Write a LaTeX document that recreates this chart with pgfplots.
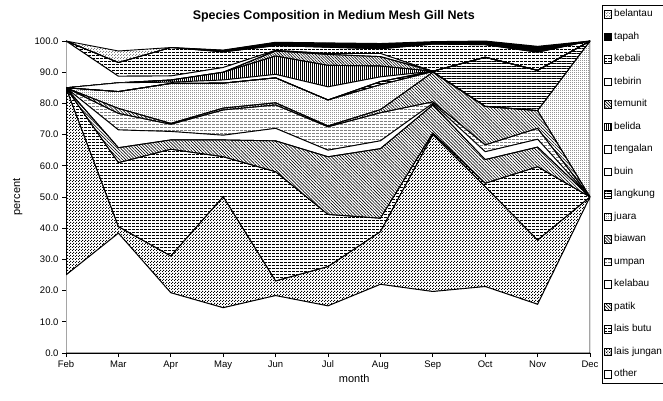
\documentclass[border=0pt]{standalone}
\usepackage{pgfplots}
\pgfplotsset{compat=1.18}
\usepackage{fontspec}
\setmainfont{Liberation Sans}
\usetikzlibrary{patterns,patterns.meta}

% small excel-like fill patterns
\pgfdeclarepatternformonly{chk}{\pgfqpoint{0pt}{0pt}}{\pgfqpoint{3pt}{3pt}}{\pgfqpoint{3pt}{3pt}}{%
  \pgfpathrectangle{\pgfqpoint{0pt}{0pt}}{\pgfqpoint{1.2pt}{1.2pt}}%
  \pgfpathrectangle{\pgfqpoint{1.5pt}{1.5pt}}{\pgfqpoint{1.2pt}{1.2pt}}%
  \pgfusepath{fill}}
\pgfdeclarepatternformonly{fdots}{\pgfqpoint{0pt}{0pt}}{\pgfqpoint{2pt}{2pt}}{\pgfqpoint{2pt}{2pt}}{%
  \pgfpathrectangle{\pgfqpoint{0pt}{0pt}}{\pgfqpoint{0.9pt}{0.9pt}}%
  \pgfusepath{fill}}
\pgfdeclarepatternformonly{hdash}{\pgfqpoint{-0.5pt}{-0.5pt}}{\pgfqpoint{4.5pt}{3.5pt}}{\pgfqpoint{4pt}{3pt}}{%
  \pgfsetlinewidth{0.7pt}%
  \pgfpathmoveto{\pgfqpoint{0pt}{1pt}}\pgfpathlineto{\pgfqpoint{2.5pt}{1pt}}%
  \pgfusepath{stroke}}

\begin{document}
\begin{tikzpicture}
\useasboundingbox (0pt,0pt) rectangle (663pt,401pt);
\begin{axis}[
  at={(66pt,48pt)}, anchor=south west,
  scale only axis, width=524pt, height=312pt,
  stack plots=y,
  xmin=0, xmax=10, ymin=0, ymax=100,
  xtick={0,...,10},
  xticklabels={Feb,Mar,Apr,May,Jun,Jul,Aug,Sep,Oct,Nov,Dec},
  ytick={0,10,...,100},
  yticklabel style={/pgf/number format/.cd, fixed, fixed zerofill, precision=1},
  /pgf/number format/assume math mode=true,
  axis x line*=bottom, axis y line*=left,
  axis line style={line width=0.8pt},
  tick align=outside, major tick length=4pt,
  tick style={black, line width=0.8pt},
  tick label style={font=\fontsize{9.5}{10}\selectfont},
  title={\textbf{Species Composition in Medium Mesh Gill Nets}},
  title style={font=\fontsize{12.5}{14}\selectfont, at={(rel axis cs:0.511,1)}, anchor=south, yshift=9pt},
  xlabel={month}, ylabel={percent},
  label style={font=\fontsize{11}{12}\selectfont},
  xlabel style={at={(rel axis cs:0.55,0)}, anchor=north, yshift=-18pt},
  ylabel style={at={(rel axis cs:0,0.5)}, anchor=south, yshift=40pt},
  every axis plot/.append style={draw=black, line width=0.9pt, area legend,
    legend image code/.code={\draw[#1, line width=0.5pt] (0pt,-3.6pt) rectangle (7.2pt,3.6pt);}},
  reverse legend,
  legend cell align=left,
  legend style={at={(rel axis cs:1.022,1.1154)}, anchor=north west,
    draw=black, line width=0.8pt, row sep=10.8pt, column sep=2pt,
    font=\fontsize{10}{11}\selectfont,
    inner xsep=2pt, inner ysep=3pt,
    nodes={inner sep=0.6pt, text height=8pt, text depth=2.5pt}},
]
% other
\addplot[fill=white] coordinates {(0,25) (1,38.4) (2,19.3) (3,14.5) (4,18.4) (5,15.1) (6,22.0) (7,19.7) (8,21.3) (9,15.6) (10,50)} \closedcycle;
% lais jungan
\addplot[pattern=chk, pattern color=black] coordinates {(0,60) (1,2.1) (2,11.8) (3,35.6) (4,4.7) (5,12.6) (6,16.9) (7,50.3) (8,32.0) (9,20.6) (10,0)} \closedcycle;
% lais butu
\addplot[pattern=hdash, pattern color=black] coordinates {(0,0) (1,20.5) (2,34.2) (3,12.8) (4,35.0) (5,16.7) (6,4.3) (7,0.5) (8,1.1) (9,23.5) (10,0)} \closedcycle;
% patik
\addplot[pattern={Lines[angle=-45,distance=2.2pt,line width=0.6pt]}, pattern color=black] coordinates {(0,0) (1,4.8) (2,3.0) (3,5.4) (4,9.9) (5,18.5) (6,22.3) (7,9.0) (8,7.6) (9,6.3) (10,0)} \closedcycle;
% kelabau
\addplot[fill=white] coordinates {(0,0) (1,5.7) (2,2.7) (3,1.5) (4,4.0) (5,2.1) (6,2.5) (7,0.5) (8,2.5) (9,2.5) (10,0)} \closedcycle;
% umpan
\addplot[pattern=hdash, pattern color=gray] coordinates {(0,0) (1,5.3) (2,2.3) (3,8.1) (4,7.5) (5,7.5) (6,9.0) (7,0.5) (8,2.2) (9,3.5) (10,0)} \closedcycle;
% biawan
\addplot[pattern={Lines[angle=-45,distance=2.2pt,line width=0.6pt]}, pattern color=black] coordinates {(0,0) (1,1.6) (2,0.3) (3,0.6) (4,0.7) (5,0.3) (6,1.0) (7,9.5) (8,12.3) (9,5.7) (10,0)} \closedcycle;
% juara
\addplot[pattern=fdots, pattern color=black] coordinates {(0,0) (1,5.4) (2,12.8) (3,8.0) (4,8.0) (5,8.3) (6,8.0) (7,0.2) (8,0.1) (9,0) (10,50)} \closedcycle;
% langkung
\addplot[pattern={Lines[angle=0,distance=2.5pt,line width=0.6pt]}, pattern color=black] coordinates {(0,0) (1,0) (2,0) (3,0) (4,0) (5,0) (6,1.0) (7,0.1) (8,15.7) (9,12.9) (10,0)} \closedcycle;
% buin
\addplot[fill=white] coordinates {(0,0) (1,0) (2,0) (3,0) (4,0) (5,0) (6,0) (7,0) (8,0) (9,0) (10,0)} \closedcycle;
% tengalan
\addplot[fill=white] coordinates {(0,0) (1,2.8) (2,0.4) (3,1.0) (4,1.1) (5,4.2) (6,1.5) (7,0) (8,0) (9,0) (10,0)} \closedcycle;
% belida
\addplot[pattern={Lines[angle=90,distance=2pt,line width=0.6pt]}, pattern color=black] coordinates {(0,0) (1,0) (2,0.7) (3,2.5) (4,5.9) (5,6.9) (6,3.5) (7,0) (8,0) (9,0) (10,0)} \closedcycle;
% temunit
\addplot[pattern={Lines[angle=-45,distance=2pt,line width=0.6pt]}, pattern color=black] coordinates {(0,0) (1,0) (2,0) (3,0) (4,1.6) (5,3.5) (6,3.0) (7,0) (8,0) (9,0) (10,0)} \closedcycle;
% tebirin
\addplot[fill=white] coordinates {(0,15) (1,2.1) (2,1.3) (3,1.5) (4,0.2) (5,0.3) (6,1.0) (7,0) (8,0) (9,0) (10,0)} \closedcycle;
% kebali
\addplot[pattern=hdash, pattern color=black] coordinates {(0,0) (1,4.4) (2,9.1) (3,5.0) (4,1.5) (5,2.0) (6,1.5) (7,8.7) (8,4.0) (9,5.8) (10,0)} \closedcycle;
% tapah
\addplot[fill=black] coordinates {(0,0) (1,0) (2,0) (3,0.5) (4,1.0) (5,1.2) (6,1.5) (7,0.5) (8,1.0) (9,1.6) (10,0)} \closedcycle;
% belantau
\addplot[pattern=chk, pattern color=gray] coordinates {(0,0) (1,3.7) (2,0) (3,0.1) (4,0.1) (5,0.2) (6,0.2) (7,0.3) (8,0.2) (9,0.3) (10,0)} \closedcycle;
\legend{other,lais jungan,lais butu,patik,kelabau,umpan,biawan,juara,langkung,buin,tengalan,belida,temunit,tebirin,kebali,tapah,belantau}
\end{axis}
\end{tikzpicture}
\end{document}
